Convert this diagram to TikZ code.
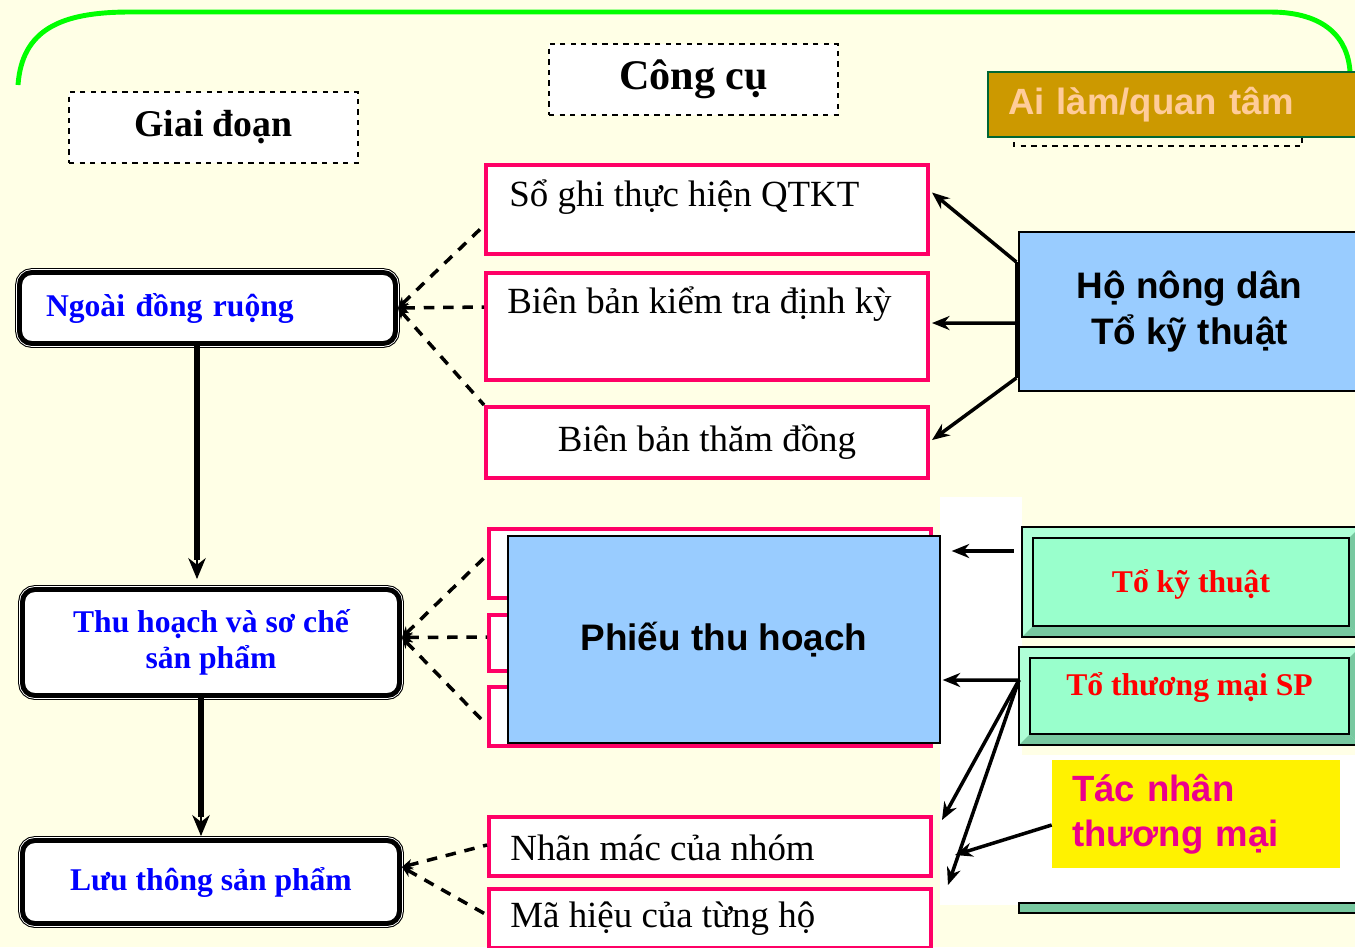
\documentclass[tikz,border=0pt]{standalone}
\usepackage{fontspec}
\setmainfont{Liberation Serif}
\setsansfont{Liberation Sans}
\usetikzlibrary{positioning,arrows.meta,calc}
\definecolor{nenkem}{RGB}{255,255,230}
\definecolor{vienhong}{RGB}{255,0,102}
\definecolor{xanhnhat}{RGB}{153,204,255}
\definecolor{vang}{RGB}{204,153,0}
\definecolor{chuvang}{RGB}{255,204,153}
\definecolor{vienluc}{RGB}{0,102,51}
\definecolor{gnen}{RGB}{153,255,204}
\definecolor{gsang}{RGB}{175,255,215}
\definecolor{gtoi}{RGB}{120,200,160}
\definecolor{cunglua}{RGB}{0,255,0}
\tikzset{
  tieude/.style={draw,dashed,fill=white,thick,minimum width=5.78cm,minimum height=1.42cm,font=\bfseries\fontsize{21.5}{25}\selectfont},
  hop/.style={draw=vienhong,line width=2.3pt,fill=white,minimum width=8.84cm,inner sep=0pt,font=\fontsize{21}{25}\selectfont},
  chuhop/.style={inner sep=0pt,font=\fontsize{21}{25}\selectfont},
  giaidoan/.style={rectangle,rounded corners=7pt,fill=white,
    preaction={draw=black,line width=5pt},preaction={draw=white,line width=3.8pt},
    draw=black,line width=2.8pt,text=blue,font=\bfseries\fontsize{18}{20.5}\selectfont},
  xanhhop/.style={draw=black,thick,fill=xanhnhat,font=\sffamily\bfseries\fontsize{21}{26}\selectfont},
  gbevel/.style={draw=black,line width=1.2pt,fill=gsang,inner sep=0pt,text=red,
    font=\bfseries\fontsize{18}{21}\selectfont,
    path picture={
      \coordinate (pp1) at (path picture bounding box.south west);
      \coordinate (pp2) at (path picture bounding box.north east);
      \fill[gtoi] (pp1) -- (pp1 -| pp2) -- ($(pp1 -| pp2)+(-11,-11)$) -- ($(pp1)+(11,-11)$) -- cycle;
      \fill[gtoi] (pp1 -| pp2) -- (pp2) -- ($(pp2)+(-11,11)$) -- ($(pp1 -| pp2)+(-11,-11)$) -- cycle;
      \draw[black,line width=1.6pt,fill=gnen] ($(pp1)+(11,-11)$) rectangle ($(pp2)+(-11,11)$);
    }},
  noi/.style={dash pattern=on 6pt off 5pt,line width=2pt,{Stealth[length=6pt,width=6pt]}-},
  muiten/.style={line width=2pt,-{Stealth[length=10pt,width=8pt]}},
  dong/.style={double=gray!70,double distance=0.9pt,line width=1.1pt},
  dongmui/.style={line width=0.8pt,-{Stealth[length=12pt,width=10pt]}},
}
\begin{document}
\begin{tikzpicture}[x=0.02cm,y=-0.02cm]
  % nen
  \fill[nenkem] (0,0) rectangle (1355,947);
  \useasboundingbox (0,0) rectangle (1355,947);
  \fill[white] (940,497) rectangle (1022,905);
  \fill[white] (1022,755) rectangle (1355,905);
  \draw[cunglua,line width=2.8pt] (18,85) .. controls (22,30) and (60,12) .. (130,12) -- (1270,12) .. controls (1325,12) and (1348,38) .. (1350,72);

  % tieu de
  \node[tieude] (gd) at (213.5,127.5) {Giai đoạn};
  \node[tieude,font=\bfseries\fontsize{24}{28}\selectfont] (cc) at (693.5,79.5) {Công cụ};
  \draw[dashed,thick] (1014,100) rectangle (1302,146);
  \node[draw=vienluc,line width=1.2pt,fill=vang,text=chuvang,inner xsep=0.4cm,text width=6.64cm,align=left,
        minimum height=1.3cm,font=\sffamily\bfseries\fontsize{20.8}{24}\selectfont] (ailam) at (1174,104.5) {Ai làm/quan tâm};

  % giai doan
  \node[giaidoan,minimum height=1.42cm,inner xsep=0.53cm,text width=6.46cm,align=left] (s1) at (207.5,308) {Ngoài đồng ruộng};
  \node[giaidoan,minimum width=7.54cm,minimum height=2.12cm,align=center] (s2) at (211,642.5) {Thu hoạch và sơ chế\\sản phẩm};
  \node[giaidoan,minimum width=7.54cm,minimum height=1.66cm] (s3) at (211,882) {Lưu thông sản phẩm};

  % cong cu
  \node[hop,minimum height=1.78cm,label={[chuhop,anchor=west,xshift=0.5cm,yshift=0.25cm]west:Sổ ghi thực hiện QTKT}] (b1) at (707,209.5) {};
  \node[hop,minimum height=2.14cm,below=0.3cm of b1,label={[chuhop,anchor=west,xshift=0.46cm,yshift=0.45cm]west:Biên bản kiểm tra định kỳ}] (b2) {};
  \node[hop,minimum height=1.42cm,below=0.46cm of b2] (b3) {Biên bản thăm đồng};
  \node[hop,minimum height=1.38cm] (b4) at (710,563.5) {};
  \node[hop,minimum height=1.12cm,below=0.26cm of b4] (b5) {};
  \node[hop,minimum height=1.18cm,below=0.24cm of b5] (b6) {};
  \node[xanhhop,minimum width=8.64cm,minimum height=4.14cm] (pth) at (724,639.5) {Phiếu thu hoạch};
  \node[hop,minimum height=1.18cm,label={[chuhop,anchor=west,xshift=0.46cm,yshift=-0.03cm]west:Nhãn mác của nhóm}] (b7) at (710,846.5) {};
  \node[hop,minimum height=1.18cm,below=0.18cm of b7,label={[chuhop,anchor=west,xshift=0.46cm]west:Mã hiệu của từng hộ}] (b8) {};

  % ai lam
  \node[xanhhop,minimum width=6.82cm,minimum height=3.18cm,align=center] (ho) at (1189.5,311.5) {Hộ nông dân\\Tổ kỹ thuật};
  \node[gbevel,minimum width=6.76cm,minimum height=2.2cm,text depth=0.05cm] (g1) at (1191,582) {Tổ kỹ thuật};
  \node[gbevel,minimum width=6.82cm,minimum height=1.96cm,text depth=0.5cm] (g2) at (1189.5,696) {Tổ thương mại SP};
  \draw[black,line width=1.2pt,fill=gtoi] (1019,903) rectangle (1360,913);
  \node[fill=yellow,minimum height=2.16cm,inner xsep=0.4cm,text width=4.96cm,align=left,text=magenta,
        font=\sffamily\bfseries\fontsize{20.8}{25.5}\selectfont] (yel) at (1196,814) {Tác nhân\\thương mại};

  % noi giai doan - cong cu
  \draw[noi] (s1.east) -- ($(b1.west)+(0,16)$);
  \draw[noi] (s1.east) -- ($(b2.west)+(0,-19.5)$);
  \draw[noi] (s1.east) -- (b3.north west);
  \draw[noi] ($(s2.east)+(0,-5)$) -- ($(b4.west)+(0,-8.5)$);
  \draw[noi] ($(s2.east)+(0,-5)$) -- ($(b5.west)+(0,-6)$);
  \draw[noi] ($(s2.east)+(0,-5)$) -- ($(b6.west)+(-5,3.5)$);
  \draw[noi] ($(s3.east)+(0,-15)$) -- ($(b7.west)+(0,-1.5)$);
  \draw[noi] ($(s3.east)+(0,-15)$) -- ($(b8.west)+(0,-3.5)$);

  % giai doan noi tiep
  \draw[dong,shorten >=11pt] ($(s1.south)+(-10.5,0)$) -- ($(s2.north)+(-14,-8)$);
  \draw[dongmui] ($(s1.south)+(-10.5,0)$) -- ($(s2.north)+(-14,-8)$);
  \draw[dong,shorten >=11pt] ($(s2.south)+(-10,0)$) -- ($(s3.north)+(-10,-2)$);
  \draw[dongmui] ($(s2.south)+(-10,0)$) -- ($(s3.north)+(-10,-2)$);

  % ai lam -> cong cu
  \draw[line width=2pt] ($(ho.west)+(-2,-49.5)$) -- ($(ho.west)+(-2,66.5)$);
  \draw[muiten] ($(ho.west)+(-2,-49.5)$) -- ($(b1.east)+(2,-17)$);
  \draw[muiten] ($(ho.west)+(-2,11.5)$) -- ($(b2.east)+(2,-3.5)$);
  \draw[muiten] ($(ho.west)+(-2,66.5)$) -- ($(b3.east)+(2,-2.5)$);
  \draw[muiten] ($(g1.west)+(-7,-31)$) -- ($(pth.east)+(11,-88.5)$);
  \coordinate (jt) at ($(g2.west)+(1,-16)$);
  \draw[muiten] (jt) -- ($(pth.east)+(2,40.5)$);
  \draw[muiten] (jt) -- ($(b7.east)+(9,-26.5)$);
  \draw[muiten] (jt) -- ($(b8.east)+(15,-33.5)$);
  \draw[muiten] ($(yel.west)+(0,11)$) -- ($(b7.east)+(22,8.5)$);
\end{tikzpicture}
\end{document}
